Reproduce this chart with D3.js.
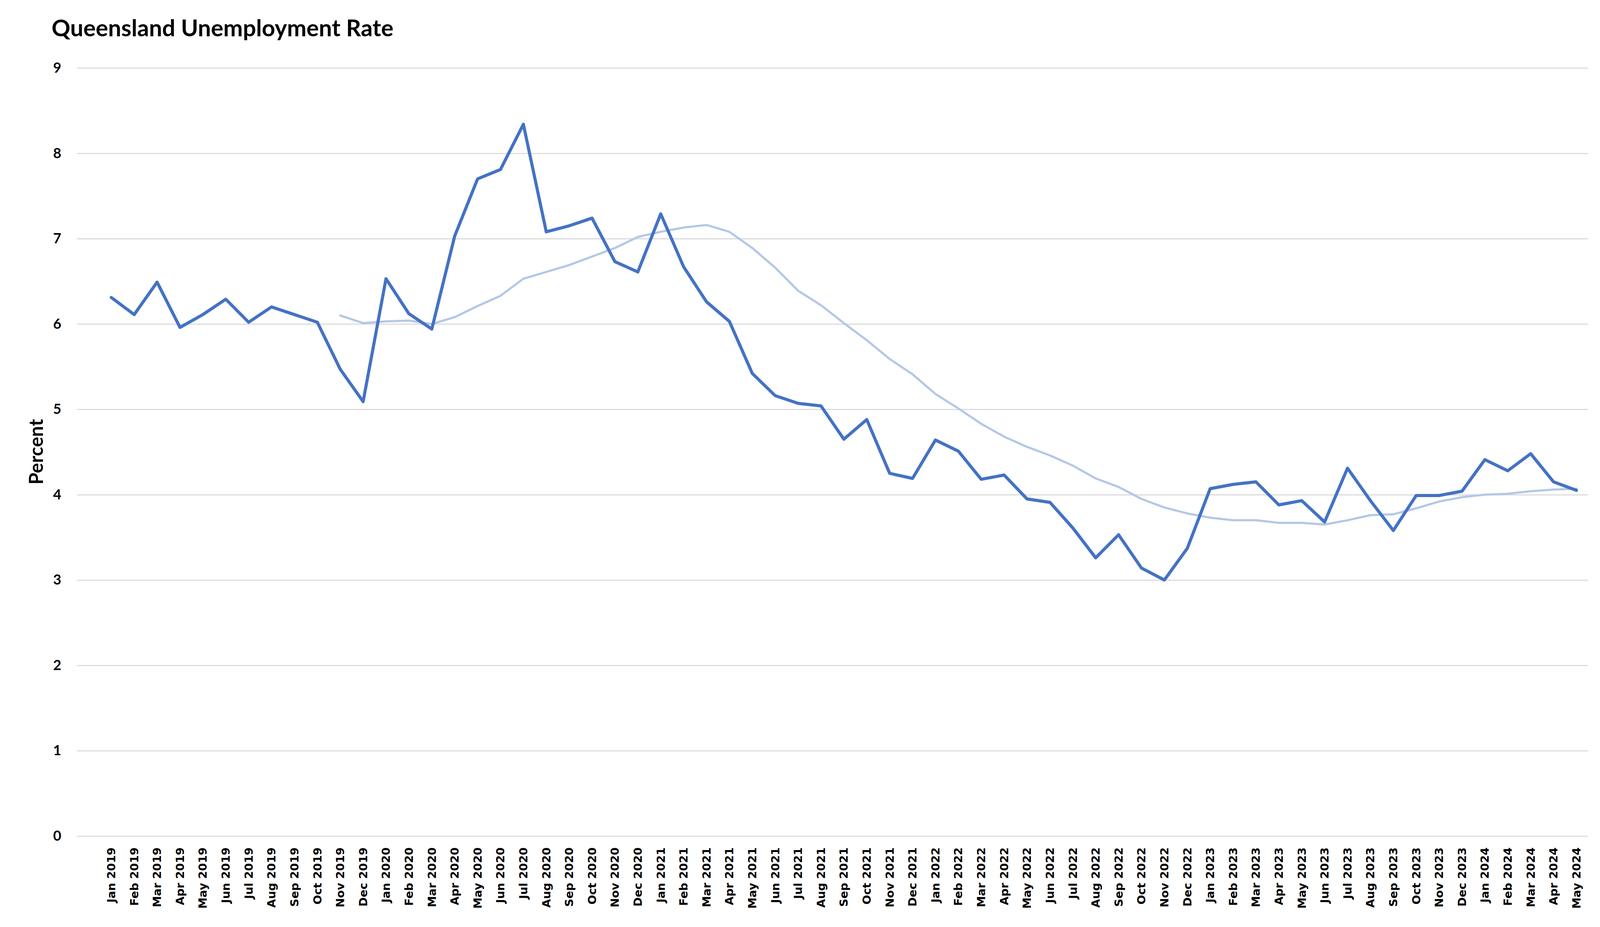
<!DOCTYPE html>
<html>
<head>
<meta charset="utf-8">
<script src="https://cdn.jsdelivr.net/npm/d3@7"></script>
<style>
  body { margin: 0; background: #fff; }
  svg { display: block; }
</style>
</head>
<body>
<div id="chart"></div>
<script>
// month labels along the x axis
const months = [
  "Jan 2019","Feb 2019","Mar 2019","Apr 2019","May 2019","Jun 2019","Jul 2019","Aug 2019","Sep 2019","Oct 2019","Nov 2019","Dec 2019",
  "Jan 2020","Feb 2020","Mar 2020","Apr 2020","May 2020","Jun 2020","Jul 2020","Aug 2020","Sep 2020","Oct 2020","Nov 2020","Dec 2020",
  "Jan 2021","Feb 2021","Mar 2021","Apr 2021","May 2021","Jun 2021","Jul 2021","Aug 2021","Sep 2021","Oct 2021","Nov 2021","Dec 2021",
  "Jan 2022","Feb 2022","Mar 2022","Apr 2022","May 2022","Jun 2022","Jul 2022","Aug 2022","Sep 2022","Oct 2022","Nov 2022","Dec 2022",
  "Jan 2023","Feb 2023","Mar 2023","Apr 2023","May 2023","Jun 2023","Jul 2023","Aug 2023","Sep 2023","Oct 2023","Nov 2023","Dec 2023",
  "Jan 2024","Feb 2024","Mar 2024","Apr 2024","May 2024"
];

// monthly unemployment rate (%)
const rate = [
  6.31,6.11,6.49,5.96,6.11,6.29,6.02,6.20,6.11,6.02,5.47,5.09,
  6.53,6.12,5.94,7.03,7.70,7.81,8.34,7.08,7.15,7.24,6.73,6.61,
  7.29,6.67,6.26,6.03,5.42,5.16,5.07,5.04,4.65,4.88,4.25,4.19,
  4.64,4.51,4.18,4.23,3.95,3.91,3.61,3.26,3.53,3.14,3.00,3.37,
  4.07,4.12,4.15,3.88,3.93,3.68,4.31,3.93,3.58,3.99,3.99,4.04,
  4.41,4.28,4.48,4.15,4.05
];

// smoothed trend line (starts Nov 2019)
const trend = [
  null,null,null,null,null,null,null,null,null,null,6.10,6.01,
  6.03,6.04,6.00,6.08,6.21,6.33,6.53,6.61,6.69,6.79,6.89,7.02,
  7.08,7.13,7.16,7.08,6.89,6.66,6.39,6.22,6.01,5.81,5.59,5.41,
  5.18,5.01,4.83,4.68,4.56,4.46,4.34,4.19,4.09,3.95,3.85,3.78,
  3.73,3.70,3.70,3.67,3.67,3.65,3.70,3.76,3.77,3.84,3.92,3.97,
  4.00,4.01,4.04,4.06,4.07
];

const yTicks = [0,1,2,3,4,5,6,7,8,9];

const width = 4125, height = 2374;
const plot = { left: 197, right: 4065, top: 174, bottom: 2141 };

const svg = d3.select("#chart").append("svg")
  .attr("width", width)
  .attr("height", height);

// an empty leading slot, as in the original chart
const x = d3.scaleBand()
  .domain(["", ...months])
  .range([plot.left, plot.right]);

const y = d3.scaleLinear()
  .domain([0, 9])
  .range([plot.bottom, plot.top]);

const cx = i => x(months[i]) + x.bandwidth() / 2;

// gridlines + y labels
const yAxis = svg.append("g")
  .attr("transform", `translate(${plot.left},0)`)
  .call(d3.axisLeft(y).tickValues(yTicks).tickSize(-(plot.right - plot.left)).tickPadding(40).tickFormat(d3.format("d")));
yAxis.select(".domain").remove();
yAxis.selectAll(".tick line").attr("stroke", "#d9d9d9").attr("stroke-width", 2.7);
yAxis.selectAll(".tick text")
  .attr("fill", "#000")
  .style("font-family", "Lato, 'Open Sans', sans-serif")
  .style("font-weight", "bold")
  .style("font-size", "36px");

// x labels, rotated
const xAxis = svg.append("g")
  .attr("transform", `translate(0,${plot.bottom})`)
  .call(d3.axisBottom(x).tickValues(months).tickSize(0).tickPadding(0));
xAxis.select(".domain").remove();
xAxis.selectAll(".tick text")
  .attr("transform", "rotate(-90)")
  .attr("text-anchor", "end")
  .attr("x", -29)
  .attr("y", 0)
  .attr("dy", "0.35em")
  .attr("fill", "#000")
  .style("font-family", "'DejaVu Sans', sans-serif")
  .style("font-weight", "bold")
  .style("font-size", "29px");

// lines
const line = d3.line()
  .defined(d => d != null)
  .x((d, i) => cx(i))
  .y(d => y(d));

svg.append("path")
  .datum(trend)
  .attr("fill", "none")
  .attr("stroke", "#b4c7e7")
  .attr("stroke-width", 5.5)
  .attr("stroke-linejoin", "round")
  .attr("stroke-linecap", "round")
  .attr("d", line);

svg.append("path")
  .datum(rate)
  .attr("fill", "none")
  .attr("stroke", "#4472c4")
  .attr("stroke-width", 8)
  .attr("stroke-linejoin", "round")
  .attr("stroke-linecap", "round")
  .attr("d", line);

// title
svg.append("text")
  .attr("x", 132)
  .attr("y", 93)
  .style("font-family", "Lato, 'Open Sans', sans-serif")
  .style("font-weight", "bold")
  .style("font-size", "59.5px")
  .text("Queensland Unemployment Rate");

// y axis title
svg.append("text")
  .attr("transform", "translate(110,1157) rotate(-90)")
  .attr("text-anchor", "middle")
  .style("font-family", "Lato, 'Open Sans', sans-serif")
  .style("font-weight", "bold")
  .style("font-size", "49px")
  .text("Percent");
</script>
</body>
</html>
